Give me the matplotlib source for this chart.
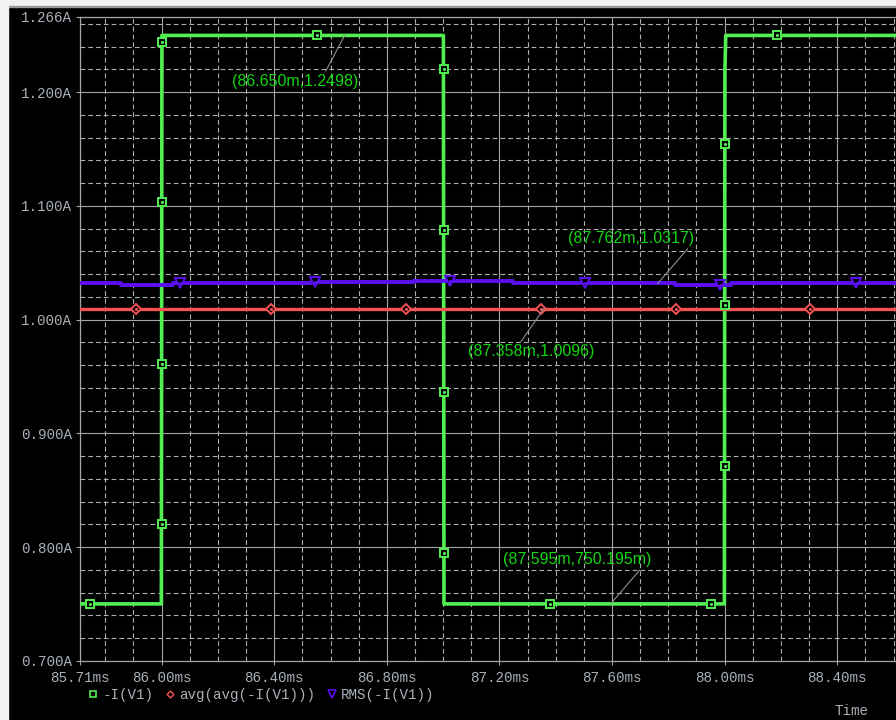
import matplotlib
matplotlib.use("Agg")
import matplotlib.pyplot as plt
from matplotlib.lines import Line2D
from matplotlib.patches import Rectangle
from matplotlib.ticker import MultipleLocator

plt.rcParams["lines.scale_dashes"] = False

# -I(V1): square wave, time in ms, current in A
green_t = [85.71, 85.999, 86.001, 87.001, 87.003, 87.999, 88.001, 88.004, 88.62]
green_i = [0.750195, 0.750195, 1.2498, 1.2498, 0.750195, 0.750195, 1.22, 1.2498, 1.2498]
green_mark_t = [85.744, 86.0, 86.0, 86.0, 86.0, 86.551, 87.002, 87.002, 87.002, 87.002,
                87.378, 87.950, 88.0, 88.0, 88.0, 88.185]
green_mark_i = [0.7502, 0.820, 0.961, 1.103, 1.244, 1.2498, 1.220, 1.079, 0.936, 0.795,
                0.7502, 0.7502, 0.871, 1.013, 1.154, 1.2498]

# avg(avg(-I(V1)))
red_t = [85.71, 88.62]
red_i = [1.0096, 1.0096]
red_mark_t = [85.908, 86.387, 86.867, 87.346, 87.826, 88.305]
red_mark_i = [1.0096, 1.0096, 1.0096, 1.0096, 1.0096, 1.0096]

# RMS(-I(V1))
blue_t = [85.71, 85.854, 86.039, 86.529, 86.892, 87.247, 87.822, 88.021, 88.62]
blue_i = [1.0322, 1.0304, 1.0319, 1.0333, 1.0342, 1.0322, 1.0304, 1.0325, 1.0325]
blue_mark_t = [86.065, 86.545, 87.025, 87.505, 87.985, 88.465]
blue_mark_i = [1.0319, 1.0333, 1.0342, 1.0322, 1.0304, 1.0325]

xtick_vals = [85.71, 86.0, 86.4, 86.8, 87.2, 87.6, 88.0, 88.4]
xtick_labels = ["85.71ms", "86.00ms", "86.40ms", "86.80ms", "87.20ms", "87.60ms", "88.00ms", "88.40ms"]
ytick_vals = [0.7, 0.8, 0.9, 1.0, 1.1, 1.2, 1.266]
ytick_labels = ["0.700A", "0.800A", "0.900A", "1.000A", "1.100A", "1.200A", "1.266A"]

# cursor readouts: (label, x, y, text offset px, leader attach point on text)
notes = [
    ("(86.650m,1.2498)", 86.650, 1.2498, (-113, -46), (0.73, 0.95)),
    ("(87.762m,1.0317)", 87.762, 1.0317, (-90, 45), (0.98, 0.1)),
    ("(87.358m,1.0096)", 87.358, 1.0096, (-76, -43), (0.40, 0.95)),
    ("(87.595m,750.195m)", 87.595, 0.750195, (-108, 44), (0.95, 0.12)),
]

GREEN = "#52ee52"
RED = "#f75252"
BLUE = "#5a0ff0"
NOTE_GREEN = "#12d612"
GRID = "#a4a4a4"
TXT = "#a9b0b8"
MONO = "Liberation Mono"

fig = plt.figure(figsize=(8.96, 7.2), dpi=100, facecolor="black")
ax = fig.add_axes([80 / 896, 59 / 720, 816 / 896, 644 / 720], facecolor="black")

# window frame strips
fig.patches.append(Rectangle((0, 1 - 6 / 720), 1, 6 / 720, transform=fig.transFigure,
                             color="#f2f2f2", zorder=0))
fig.patches.append(Rectangle((0, 1 - 7 / 720), 1, 1.2 / 720, transform=fig.transFigure,
                             color="#9a9a9a", zorder=0))
fig.patches.append(Rectangle((0, 0), 8 / 896, 1, transform=fig.transFigure,
                             color="#f2f2f2", zorder=0))

ax.plot(green_t, green_i, color=GREEN, lw=2.6, zorder=3)
ax.plot(red_t, red_i, color=RED, lw=2.4, zorder=3)
ax.plot(blue_t, blue_i, color=BLUE, lw=2.8, drawstyle="steps-post", zorder=3)

ax.plot(green_mark_t, green_mark_i, ls="none", marker="s", ms=5.5, mfc="black",
        mec=GREEN, mew=1.4, zorder=4)
ax.plot(green_mark_t, green_mark_i, ls="none", marker=".", ms=2.5, color=GREEN, zorder=5)
ax.plot(red_mark_t, red_mark_i, ls="none", marker="D", ms=4.8, mfc="black",
        mec=RED, mew=1.4, zorder=4)
ax.plot(red_mark_t, red_mark_i, ls="none", marker=".", ms=2.5, color=RED, zorder=5)
ax.plot(blue_mark_t, blue_mark_i, ls="none", marker="v", ms=7, mfc="black",
        mec=BLUE, mew=1.4, zorder=4)
ax.plot(blue_mark_t, blue_mark_i, ls="none", marker=".", ms=2.5, color=BLUE, zorder=5)

for label, x, y, off, rel in notes:
    ax.annotate(label, xy=(x, y), xytext=off, textcoords="offset pixels",
                ha="left", va="center", color=NOTE_GREEN, fontsize=11.5,
                family="Liberation Sans", zorder=6,
                arrowprops=dict(arrowstyle="-", color="#8e8e8e", lw=0.8,
                                shrinkA=0, shrinkB=0, relpos=rel))

ax.set_xlim(85.71, 85.71 + 816 / 281.5)
ax.set_ylim(0.7, 1.266)

ax.set_xticks(xtick_vals)
ax.set_xticklabels(xtick_labels, family=MONO, fontsize=10.3, color=TXT)
ax.set_yticks(ytick_vals)
ax.set_yticklabels(ytick_labels, family=MONO, fontsize=10.3, color=TXT)
ax.xaxis.set_minor_locator(MultipleLocator(0.1))
ax.yaxis.set_minor_locator(MultipleLocator(0.02))

ax.tick_params(which="major", direction="out", length=3, width=0.8, color=GRID, pad=2.5)
ax.tick_params(axis="x", which="major", pad=4)
ax.tick_params(which="minor", length=0)

ax.set_axisbelow(True)
ax.grid(which="major", color=GRID, lw=0.8, ls="-")
ax.grid(which="minor", color="#b0b0b0", lw=0.8, ls=(0, (3.4, 2.2)))

for side in ["left", "bottom", "top"]:
    ax.spines[side].set_color(GRID)
    ax.spines[side].set_linewidth(0.9)
ax.spines["right"].set_visible(False)

handles = [
    Line2D([], [], ls="none", marker="s", ms=5, mfc="black", mec=GREEN, mew=1.2),
    Line2D([], [], ls="none", marker="D", ms=3.5, mfc="black", mec=RED, mew=1.0),
    Line2D([], [], ls="none", marker="v", ms=5.5, mfc="black", mec=BLUE, mew=1.2),
]
fig.legend(handles, ["-I(V1)", "avg(avg(-I(V1)))", "RMS(-I(V1))"], ncol=3,
           loc="center left", bbox_to_anchor=(81 / 896, 1 - 695 / 720),
           frameon=False, borderpad=0, handlelength=0.7, handletextpad=0.3,
           columnspacing=0.8, prop={"family": MONO, "size": 10.3}, labelcolor=TXT)

fig.text(851 / 896, 1 - 711 / 720, "Time", family=MONO, fontsize=10.3, color=TXT,
         ha="center", va="center")

fig.savefig("out.png", dpi=100, facecolor="black")
